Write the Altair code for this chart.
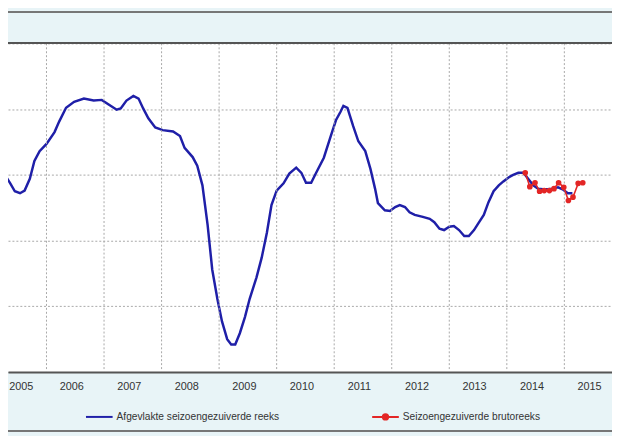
import altair as alt
import pandas as pd

series_names = ["Afgevlakte seizoengezuiverde reeks", "Seizoengezuiverde brutoreeks"]
series_colors = ["#1f1fa8", "#e32626"]

# smoothed seasonally adjusted series (decimal year, value)
blue_t = [2005.19, 2005.37, 2005.45, 2005.54, 2005.62, 2005.71, 2005.79, 2005.88,
          2006.00, 2006.14, 2006.22, 2006.34, 2006.48, 2006.65, 2006.82, 2006.96,
          2007.08, 2007.22, 2007.29, 2007.39, 2007.51, 2007.60, 2007.68, 2007.77, 2007.89,
          2008.02, 2008.20, 2008.32, 2008.40, 2008.54, 2008.62, 2008.71, 2008.80, 2008.88, 2008.97,
          2009.05, 2009.14, 2009.21, 2009.28, 2009.36, 2009.45, 2009.53, 2009.65, 2009.74, 2009.83, 2009.91,
          2010.00, 2010.12, 2010.22, 2010.34, 2010.43, 2010.51, 2010.60, 2010.68, 2010.82, 2010.94,
          2011.03, 2011.11, 2011.16, 2011.23, 2011.33, 2011.42, 2011.54, 2011.63, 2011.71, 2011.76, 2011.88, 2011.97,
          2012.06, 2012.14, 2012.23, 2012.31, 2012.40, 2012.54, 2012.66, 2012.74, 2012.83, 2012.91,
          2013.00, 2013.08, 2013.17, 2013.26, 2013.34, 2013.43, 2013.51, 2013.60, 2013.68, 2013.77, 2013.86, 2013.94,
          2014.03, 2014.11, 2014.20, 2014.29, 2014.37, 2014.46, 2014.54, 2014.63, 2014.71, 2014.80, 2014.89, 2014.97,
          2015.06, 2015.14]
blue_v = [-8.8, -11.3, -12.5, -12.8, -12.4, -10.6, -7.9, -6.4,
          -5.3, -3.5, -1.9, 0.2, 1.1, 1.6, 1.3, 1.4,
          0.7, -0.1, 0.1, 1.3, 2.0, 1.6, 0.1, -1.4, -2.8,
          -3.2, -3.4, -4.1, -5.9, -7.3, -8.6, -11.6, -17.6, -24.4, -28.9,
          -32.3, -35.0, -35.8, -35.8, -34.1, -31.6, -28.9, -25.6, -22.6, -18.8, -14.6,
          -12.4, -11.3, -9.8, -8.9, -9.7, -11.2, -11.2, -9.8, -7.4, -4.1,
          -1.7, -0.4, 0.5, 0.2, -2.6, -4.9, -6.4, -9.1, -12.1, -14.3, -15.4, -15.5,
          -14.9, -14.6, -14.9, -15.7, -16.1, -16.4, -16.7, -17.2, -18.2, -18.4,
          -17.9, -17.8, -18.4, -19.3, -19.3, -18.4, -17.3, -16.1, -14.2, -12.5, -11.6, -11.0,
          -10.4, -10.0, -9.7, -9.7, -10.6, -11.6, -12.1, -12.2, -12.2, -12.1, -11.9, -12.2,
          -12.8, -12.8]

# raw seasonally adjusted series (monthly)
red_t = [2014.32, 2014.40, 2014.49, 2014.57, 2014.65, 2014.74, 2014.82,
         2014.90, 2014.99, 2015.07, 2015.15, 2015.24, 2015.32]
red_v = [-9.7, -11.8, -11.2, -12.5, -12.4, -12.4, -12.1,
         -11.2, -11.9, -13.9, -13.4, -11.3, -11.2]

year_labels = [2005, 2006, 2007, 2008, 2009, 2010, 2011, 2012, 2013, 2014, 2015]
year_bounds = [2006, 2007, 2008, 2009, 2010, 2011, 2012, 2013, 2014, 2015]
y_grid = [-40, -30, -20, -10, 0, 10]

blue_df = pd.DataFrame({"t": blue_t, "v": blue_v, "reeks": series_names[0]})
red_df = pd.DataFrame({"t": red_t, "v": red_v, "reeks": series_names[1]})

FONT = "Liberation Sans"
x_scale = alt.Scale(domain=[2005.331, 2015.828], nice=False, zero=False)
y_scale = alt.Scale(domain=[-40, 10], nice=False, zero=False)

# year labels sit a little before mid-year, as in the original
label_shift = 0.43
x_axis = alt.Axis(values=[y + label_shift for y in year_labels], labelExpr="floor(datum.value)",
                  labelFlush=10, labelFlushOffset=5, labelOverlap=False, ticks=False, grid=False,
                  domain=True, domainColor="#555555", domainWidth=2, labelFont=FONT,
                  labelFontSize=11, labelColor="#333333", labelPadding=9, title=None)
y_axis = alt.Axis(values=y_grid, labels=False, ticks=False, domain=False, grid=True,
                  gridDash=[2, 2], gridColor="#a8a8a8", gridWidth=1, title=None)

legend_common = dict(title=None, orient="none", direction="horizontal",
                     symbolSize=729, symbolStrokeWidth=2, labelFont=FONT, labelLimit=400,
                     labelFontSize=10.3, labelColor="#333333", labelOffset=3)
blue_legend = alt.Legend(legendX=78, legendY=364, symbolType="stroke", **legend_common)
red_path = "M-1,0H1M-0.2,0A0.2,0.2,0,1,0,0.2,0A0.2,0.2,0,1,0,-0.2,0Z"
red_legend = alt.Legend(legendX=368, legendY=364, symbolType=red_path,
                        symbolFillColor=series_colors[1], **legend_common)

blue = alt.Chart(blue_df).mark_line(strokeWidth=2.5, clip=True).encode(
    x=alt.X("t:Q", scale=x_scale, axis=x_axis),
    y=alt.Y("v:Q", scale=y_scale, axis=y_axis),
    color=alt.Color("reeks:N", scale=alt.Scale(domain=[series_names[0]], range=[series_colors[0]]),
                    legend=blue_legend),
)

vgrid = alt.Chart(pd.DataFrame({"t": year_bounds})).mark_rule(
    strokeDash=[2, 2], color="#a8a8a8", strokeWidth=1
).encode(x=alt.X("t:Q", scale=x_scale, axis=x_axis))

red = alt.Chart(red_df).mark_line(
    strokeWidth=1.6, clip=True,
    point=alt.OverlayMarkDef(size=14, filled=True, fill=series_colors[1], opacity=1),
).encode(
    x=alt.X("t:Q", scale=x_scale, axis=x_axis),
    y=alt.Y("v:Q", scale=y_scale, axis=y_axis),
    stroke=alt.Stroke("reeks:N", scale=alt.Scale(domain=[series_names[1]], range=[series_colors[1]]),
                      legend=red_legend),
)

top_border = alt.Chart(blue_df).mark_rule(color="#555555", strokeWidth=1.5).encode(y=alt.value(0))
band_top = alt.Chart(blue_df).mark_rule(color="#777777", strokeWidth=1.5).encode(y=alt.value(-32))
band_bottom = alt.Chart(blue_df).mark_rule(color="#777777", strokeWidth=1.5).encode(y=alt.value(393))

chart = alt.layer(blue, vgrid, red, top_border, band_top, band_bottom).resolve_scale(
    color="independent", stroke="independent"
).properties(
    width=612, height=333,
    background="#e8f4f7",
    padding={"left": 0, "right": 0, "top": 33, "bottom": 62},
    autosize=alt.AutoSizeParams(type="none"),
).configure_view(fill="white", strokeWidth=0)

chart.save("out.html", embed_options={"renderer": "svg", "actions": False})
